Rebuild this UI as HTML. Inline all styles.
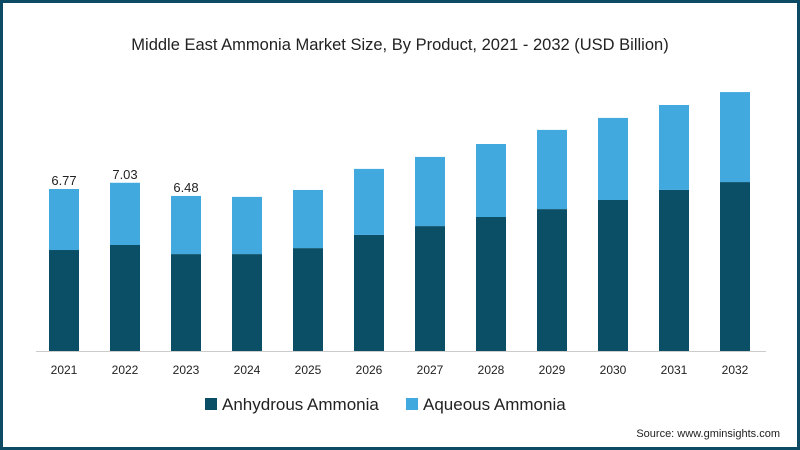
<!DOCTYPE html>
<html><head><meta charset="utf-8"><style>
html,body{margin:0;padding:0;}
body{width:800px;height:450px;overflow:hidden;background:#fff;font-family:"Liberation Sans",sans-serif;}
#frame{position:absolute;left:0;top:0;width:794px;height:444px;border:3px solid #0d4a63;background:#fff;}
</style></head><body>
<div id="frame"></div>
<svg id="chart" width="800" height="450" style="position:absolute;left:0;top:0">
<text x="400" y="50" text-anchor="middle" font-size="16.5" fill="#222">Middle East Ammonia Market Size, By Product, 2021 - 2032 (USD Billion)</text>
<line x1="36" y1="351.5" x2="766" y2="351.5" stroke="#ccc" stroke-width="1"/>
<g id="bars"></g>
<g>
<rect x="205" y="398" width="12" height="12" fill="#0b4f66"/>
<text x="222" y="410" font-size="17" fill="#222">Anhydrous Ammonia</text>
<rect x="406" y="398" width="12" height="12" fill="#42a9df"/>
<text x="423" y="410" font-size="17" fill="#222">Aqueous Ammonia</text>
</g>
<text x="780" y="437" text-anchor="end" font-size="11" fill="#222">Source: www.gminsights.com</text>
</svg>
<script>
const categories=["2021","2022","2023","2024","2025","2026","2027","2028","2029","2030","2031","2032"];
const anhydrous=[4.22,4.43,4.05,4.05,4.30,4.85,5.22,5.60,5.93,6.31,6.73,7.06];
const aqueous=[2.55,2.60,2.43,2.39,2.43,2.76,2.89,3.05,3.31,3.43,3.55,3.76];
const labels=["6.77","7.03","6.48","","","","","","","","",""];
const NS="http://www.w3.org/2000/svg";
const g=document.getElementById('bars');
function xC(i){return 64+61*i;}
function yV(v){return 351-v*23.93;}
const bw=30;
categories.forEach((c,i)=>{
  const y1=yV(anhydrous[i]);
  const y2=yV(anhydrous[i]+aqueous[i]);
  const r1=document.createElementNS(NS,'rect');
  r1.setAttribute('x',xC(i)-bw/2);r1.setAttribute('y',y1);r1.setAttribute('width',bw);r1.setAttribute('height',351-y1);r1.setAttribute('fill','#0b4f66');
  
  
  g.appendChild(r1);
  const r2=document.createElementNS(NS,'rect');
  r2.setAttribute('x',xC(i)-bw/2);r2.setAttribute('y',y2);r2.setAttribute('width',bw);r2.setAttribute('height',y1-y2);r2.setAttribute('fill','#42a9df');
  
  
  g.appendChild(r2);
  const t=document.createElementNS(NS,'text');
  t.setAttribute('x',xC(i));t.setAttribute('y',374);t.setAttribute('text-anchor','middle');t.setAttribute('font-size','12');t.setAttribute('fill','#222');
  t.textContent=c;
  
  
  g.appendChild(t);
  if(labels[i]){
    const l=document.createElementNS(NS,'text');
    l.setAttribute('x',xC(i));l.setAttribute('y',y2-4);l.setAttribute('text-anchor','middle');l.setAttribute('font-size','13');l.setAttribute('fill','#222');
    l.textContent=labels[i];
    
    
    g.appendChild(l);
  }
});
</script>
</body></html>
